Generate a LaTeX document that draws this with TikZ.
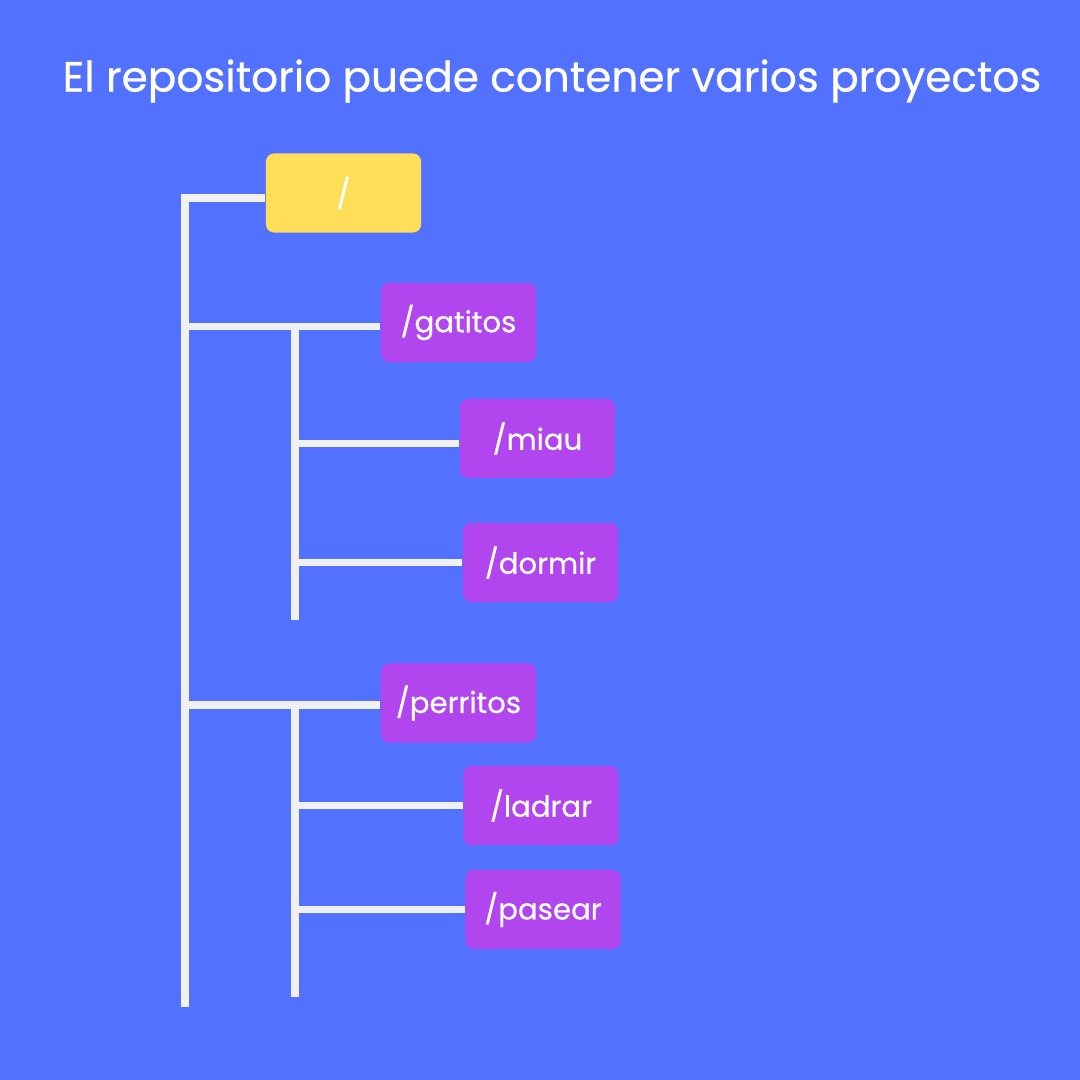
\documentclass[tikz,border=0pt]{standalone}
\usepackage{fontspec}
\setmainfont{Poppins}[FakeBold=0.6]
\usepackage{tikz}

\definecolor{bgblue}{HTML}{5271FF}
\definecolor{rootyellow}{HTML}{FFDE59}
\definecolor{dirpurple}{HTML}{B146EF}
\definecolor{wirewhite}{HTML}{F1F1F3}

\begin{document}
\begin{tikzpicture}[
  x=0.01cm, y=-0.01cm,
  folder/.style = {rectangle, rounded corners=0.08cm, minimum width=1.55cm, minimum height=0.79cm, inner sep=0pt, text=white, font=\fontsize{8.3}{10}\selectfont},
  wire/.style = {draw=wirewhite, line width=2pt}
]

% Background and page size
\fill[bgblue] (0,0) rectangle (1080,1080);
\useasboundingbox (0,0) rectangle (1080,1080);

% Title
\node[text=white, font=\fontsize{12}{14}\selectfont] at (552,81) (title) {El repositorio puede contener varios proyectos};

% Root folder
\node[folder, fill=rootyellow] at (343.5,193) (root) {/};

% First level folders
\node[folder, fill=dirpurple] at (458.5,322.5) (gatitos) {/gatitos};
\node[folder, fill=dirpurple] at (458.5,703) (perritos) {/perritos};

% Second level folders
\node[folder, fill=dirpurple] at (537.5,438.5) (miau) {/miau};
\node[folder, fill=dirpurple] at (540.5,562.5) (dormir) {/dormir};
\node[folder, fill=dirpurple] at (541,805.5) (ladrar) {/ladrar};
\node[folder, fill=dirpurple] at (543,909.5) (pasear) {/pasear};

% Ends of the vertical lines
\coordinate (trunkend) at (185,1007);
\coordinate (gatitosend) at (295,620);
\coordinate (perritosend) at (295,997);

% Main trunk
\draw[wire] ([yshift=-0.05cm]root.west) -| (trunkend);
\draw[wire] ([yshift=-0.04cm]gatitos.west) -- ([yshift=-0.04cm]gatitos.west -| trunkend);
\draw[wire] ([yshift=-0.02cm]perritos.west) -- ([yshift=-0.02cm]perritos.west -| trunkend);

% Gatitos branch
\draw[wire] ([yshift=-0.04cm]gatitos.west -| gatitosend) -- (gatitosend);
\draw[wire] ([yshift=-0.05cm]miau.west) -- ([yshift=-0.05cm]miau.west -| gatitosend);
\draw[wire] (dormir.west) -- (dormir.west -| gatitosend);

% Perritos branch
\draw[wire] ([yshift=-0.02cm]perritos.west -| perritosend) -- (perritosend);
\draw[wire] (ladrar.west) -- (ladrar.west -| perritosend);
\draw[wire] (pasear.west) -- (pasear.west -| perritosend);

\end{tikzpicture}
\end{document}
